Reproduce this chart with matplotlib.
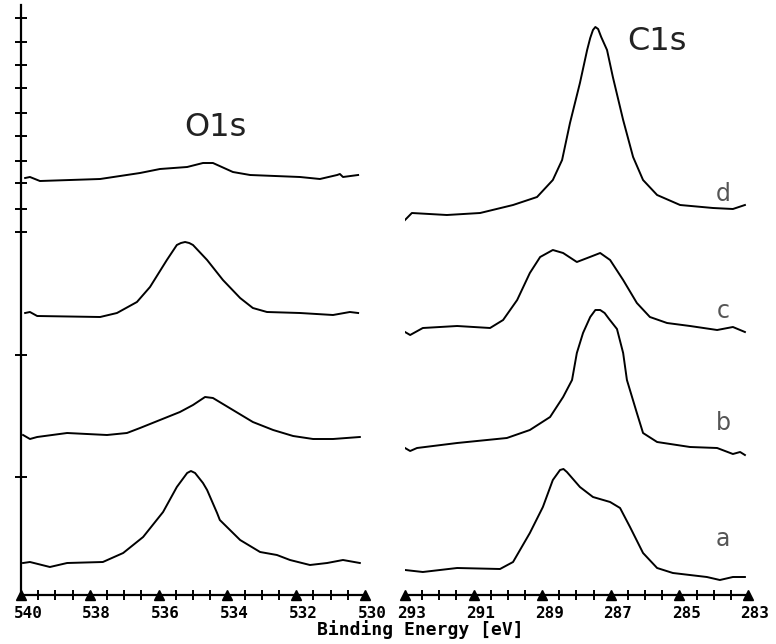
import numpy as np
import matplotlib.pyplot as plt
import matplotlib.transforms as mtransforms
from matplotlib.ticker import MultipleLocator

# O1s spectra (binding energy in eV, intensity in arb. units incl. stacking offset)
o1s_a_e = [539.94, 539.74, 539.16, 538.66, 537.62, 537.03, 536.45, 535.87, 535.47, 535.17,
           535.06, 534.94, 534.71, 534.59, 534.30, 534.22, 533.63, 533.05, 532.56, 532.18,
           531.60, 531.10, 530.64, 530.15]
o1s_a = [32, 33, 28, 32, 33, 42, 58, 83, 108, 122, 124, 122, 112, 105, 82, 75, 55, 43, 40, 35,
         30, 32, 35, 32]

o1s_b_e = [539.94, 539.74, 539.53, 538.66, 537.50, 536.92, 536.54, 535.96, 535.38, 535.00,
           534.65, 534.42, 533.84, 533.26, 532.67, 532.09, 531.51, 530.93, 530.15]
o1s_b = [160, 156, 158, 162, 160, 162, 167, 175, 183, 190, 198, 197, 185, 173, 165, 159, 156,
         156, 158]

o1s_c_e = [539.88, 539.74, 539.53, 537.70, 537.21, 536.63, 536.25, 535.76, 535.47, 535.35,
           535.23, 535.11, 535.00, 534.59, 534.13, 533.63, 533.26, 532.85, 531.89, 530.93,
           530.44, 530.20]
o1s_c = [282, 283, 279, 278, 282, 293, 308, 335, 350, 352, 353, 352, 350, 335, 315, 297, 287,
         283, 282, 280, 283, 282]

o1s_d_e = [539.88, 539.74, 539.45, 537.70, 536.54, 535.96, 535.17, 534.71, 534.42, 533.84,
           533.34, 531.89, 531.31, 530.81, 530.73, 530.64, 530.20]
o1s_d = [417, 418, 414, 416, 422, 426, 428, 432, 432, 423, 420, 418, 416, 420, 421, 418, 420]

# C1s spectra
c1s_a_e = [293.00, 292.48, 291.48, 290.23, 289.85, 289.36, 288.98, 288.69, 288.48, 288.38,
           288.28, 287.90, 287.52, 287.02, 286.73, 286.44, 286.06, 285.65, 285.19, 284.20,
           283.82, 283.44, 283.09]
c1s_a = [25, 23, 27, 26, 33, 62, 88, 115, 125, 126, 123, 108, 98, 93, 87, 68, 42, 27, 22, 18,
         15, 18, 18]

c1s_b_e = [293.00, 292.85, 292.65, 291.48, 290.03, 289.36, 288.77, 288.39, 288.13, 287.99,
           287.81, 287.60, 287.45, 287.31, 287.18, 287.05, 286.82, 286.64, 286.53, 286.24,
           286.06, 285.65, 284.69, 283.90, 283.44, 283.23, 283.09]
c1s_b = [147, 144, 147, 152, 157, 165, 178, 198, 215, 242, 262, 278, 285, 285, 282, 276, 266,
         242, 215, 182, 162, 153, 148, 147, 141, 143, 140]

c1s_c_e = [293.00, 292.85, 292.48, 291.48, 290.52, 290.14, 289.73, 289.36, 289.06, 288.69,
           288.39, 287.99, 287.61, 287.31, 287.02, 286.64, 286.24, 285.86, 285.36, 284.69,
           283.90, 283.44, 283.09]
c1s_c = [263, 260, 267, 269, 267, 275, 295, 322, 338, 345, 342, 333, 338, 342, 335, 315, 292,
         278, 272, 269, 265, 268, 263]

c1s_d_e = [293.00, 292.80, 291.78, 290.81, 289.85, 289.15, 288.69, 288.42, 288.19, 287.90,
           287.69, 287.60, 287.52, 287.45, 287.37, 287.28, 287.11, 286.94, 286.64, 286.35,
           286.06, 285.65, 284.98, 284.02, 283.44, 283.09]
c1s_d = [375, 382, 380, 382, 390, 398, 415, 435, 472, 512, 545, 557, 565, 568, 566, 558, 545,
         518, 475, 438, 415, 400, 390, 387, 386, 390]

sample_labels = ['a', 'b', 'c', 'd']
o1s_ticks = [540, 538, 536, 534, 532, 530]
c1s_ticks = [293, 291, 289, 287, 285, 283]

fig = plt.figure(figsize=(7.76, 6.44), dpi=100)
ax1 = fig.add_axes([21 / 776, 49 / 644, 344 / 776, 590 / 644])
ax2 = fig.add_axes([405 / 776, 49 / 644, 343 / 776, 590 / 644])

tickfont = dict(family='DejaVu Sans Mono', weight='bold', size=11.5)
# tick numbers sit a little to the right of their marks
shift = mtransforms.ScaledTranslation(7 / 100, 0, fig.dpi_scale_trans)

for ax, ticks in ((ax1, o1s_ticks), (ax2, c1s_ticks)):
    ax.set_xlim(ticks[0], ticks[-1])
    ax.set_ylim(0, 590)
    ax.set_facecolor('none')
    for s in ('top', 'right'):
        ax.spines[s].set_visible(False)
    ax.spines['bottom'].set_linewidth(1.6)
    ax.set_xticks(ticks)
    ax.set_xticklabels([str(t) for t in ticks], fontdict=tickfont)
    ax.xaxis.set_minor_locator(MultipleLocator(0.5))
    ax.tick_params(axis='x', which='major', length=0, pad=8)
    ax.tick_params(axis='x', which='minor', direction='inout', length=7, width=1.4)
    for lbl in ax.get_xticklabels():
        lbl.set_transform(lbl.get_transform() + shift)
    # filled triangles mark the major ticks
    ax.plot(ticks, [0.0] * len(ticks), marker='^', ls='none', ms=7, color='black',
            transform=ax.get_xaxis_transform(), clip_on=False)

ax1.spines['left'].set_linewidth(1.6)
ax1.set_yticks([577, 553, 530, 507, 482, 459, 434, 412, 386, 363, 240, 118])
ax1.tick_params(axis='y', direction='inout', length=8, width=1.4, labelleft=False)
ax2.spines['left'].set_visible(False)
ax2.set_yticks([])

lw = 1.4
ax1.plot(o1s_a_e, o1s_a, color='black', lw=lw)
ax1.plot(o1s_b_e, o1s_b, color='black', lw=lw)
ax1.plot(o1s_c_e, o1s_c, color='black', lw=lw)
ax1.plot(o1s_d_e, o1s_d, color='black', lw=lw)

ax2.plot(c1s_a_e, c1s_a, color='black', lw=lw)
ax2.plot(c1s_b_e, c1s_b, color='black', lw=lw)
ax2.plot(c1s_c_e, c1s_c, color='black', lw=lw)
ax2.plot(c1s_d_e, c1s_d, color='black', lw=lw)

ax1.text(534.36, 467, 'O1s', ha='center', va='center', fontsize=23, color='#222222')
ax2.text(285.65, 553, 'C1s', ha='center', va='center', fontsize=23, color='#222222')

for lab, yv in zip(sample_labels, [56, 172, 284, 401]):
    ax2.text(283.73, yv, lab, ha='center', va='center', fontsize=17, color='#555555')

fig.text(420 / 776, 1 - 630 / 644, 'Binding Energy [eV]', ha='center', va='center',
         family='DejaVu Sans Mono', weight='bold', fontsize=13)

fig.savefig('out.png', dpi=100, facecolor='white')
